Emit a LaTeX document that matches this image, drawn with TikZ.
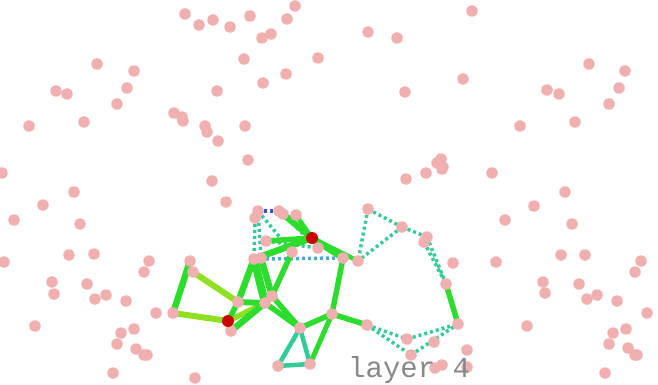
\documentclass[tikz,border=0pt]{standalone}
\usepackage{fontspec}
\newfontfamily\monofont{Liberation Mono}
\definecolor{dotpink}{RGB}{240,176,176}
\definecolor{redn}{RGB}{204,0,0}
\definecolor{gr}{RGB}{45,221,45}
\definecolor{yg}{RGB}{142,224,33}
\definecolor{tl}{RGB}{51,204,153}
\definecolor{bl}{RGB}{68,170,221}
\definecolor{db}{RGB}{51,85,204}
\definecolor{lbl}{RGB}{136,136,136}
\tikzset{
  pt/.style={circle,fill=dotpink,inner sep=0pt,minimum size=11.5pt},
  rpt/.style={circle,fill=redn,inner sep=0pt,minimum size=12pt},
  ge/.style={draw=gr,line width=6pt},
  ye/.style={draw=yg,line width=6pt},
  te/.style={draw=tl,line width=4.5pt},
  td/.style={draw=tl,line width=3.5pt,dash pattern=on 3pt off 3pt},
  bd/.style={draw=bl,line width=3.5pt,dash pattern=on 3pt off 3pt},
  dbd/.style={draw=db,line width=3.5pt,dash pattern=on 3pt off 3pt},
}
\begin{document}
\begin{tikzpicture}[x=1pt,y=-1pt]
\useasboundingbox (0,0) rectangle (658,385);
% coordinates of graph nodes
\foreach \n/\x/\y in {
 a108/258/211, a109/255/218, a110/279/211, a111/283/214, a112/296/215,
 a113/266/241, r1/312/238, a114/318/248, a115/292/252, a116/254/259,
 a117/261/258, a118/343/258, a119/358/261, a120/368/209, a121/402/227,
 a122/427/237, a123/424/242, a124/453/263, a125/446/284, a126/238/302,
 a127/272/296, a128/265/303, r2/228/321, a129/231/331, a130/300/328,
 a131/332/314, a132/367/325, a133/278/366, a134/310/364, a135/407/339,
 a136/434/342, a137/411/355, a138/442/365, a139/435/368, a107/458/324,
 a64/190/261, a65/193/272, a73/173/313}
 {\coordinate (\n) at (\x,\y);}
% edges
\draw[td] (a109) -- (a116);
\draw[td] (a108) -- (a115);
\draw[td] (a110) -- (a114);
\draw[td] (a108) -- (a117);
\draw[td] (a113) -- (a114);
\draw[td] (a120) -- (a119);
\draw[td] (a120) -- (a121);
\draw[td] (a121) -- (a119);
\draw[td] (a121) -- (a122);
\draw[td] (a122) -- (a125);
\draw[td] (a123) -- (a125);
\draw[td] (a132) -- (a135);
\draw[td] (a132) -- (a137);
\draw[td] (a135) -- (a107);
\draw[td] (a137) -- (a107);
\draw[dbd] (a108) -- (a110);
\draw[bd] (a116) -- (a118);
\draw[dbd] (a110) -- (r1);
\draw[ge,line width=6.5pt] (a64) -- (a73);
\draw[ye] (a65) -- (a126);
\draw[ye] (a73) -- (r2);
\draw[ye,line width=5.5pt] (r2) -- (a128);
\draw[ge,line width=5.5pt] (r2) -- (a126);
\draw[ge,line width=6.5pt] (a126) -- (a116);
\draw[ge,line width=8pt] (a116) -- (a128);
\draw[ge,line width=6.5pt] (a117) -- (a127);
\draw[ge,line width=5.5pt] (a127) -- (a115);
\draw[ge] (a126) -- (a128);
\draw[ge,line width=6.5pt] (a129) -- (a128);
\draw[ge,line width=5.5pt] (a128) -- (a130);
\draw[ge,line width=5.5pt] (a127) -- (a130);
\draw[ge,line width=5.5pt] (a130) -- (a131);
\draw[ge,line width=5.5pt] (a131) -- (a118);
\draw[ge,line width=5.5pt] (a131) -- (a132);
\draw[ge,line width=5pt] (a131) -- (a134);
\draw[te] (a130) -- (a133);
\draw[te] (a130) -- (a134);
\draw[te] (a133) -- (a134);
\draw[ge,line width=5.5pt] (r1) -- (a113);
\draw[ge,line width=6.5pt] (r1) -- (a116);
\draw[ge,line width=6.5pt] (r1) -- (a118);
\draw[ge,line width=4.5pt] (r1) -- (a119);
\draw[ge,line width=6.5pt] (r1) -- (a111);
\draw[ge,line width=4.5pt] (r1) -- (a112);
\draw[ge,line width=5.5pt] (a125) -- (a107);
% dots
\foreach \x/\y [count=\i] in {
 185/14,199/25,213/20,230/27,250/16,287/19,295/6,262/38,271/34,244/59,
 318/58,286/74,263/83,97/64,134/71,56/91,67/94,127/88,117/104,29/126,
 84/122,174/113,182/117,183/121,217/91,205/126,207/132,245/126,218/141,248/160,
 2/173,212/181,74/192,226/202,
 472/11,368/32,397/38,589/64,625/71,463/79,405/92,547/90,559/94,619/88,
 609/104,520/126,575/122,441/159,437/163,443/167,442/169,406/179,426/173,492/173,
 565/192,
 43/205,14/220,80/224,69/255,94/254,4/262,149/261,144/272,190/261,193/272,
 52/282,54/294,87/284,106/295,95/299,126/301,156/313,173/313,35/326,121/333,
 134/329,117/344,136/349,144/355,147/355,113/373,195/378,
 534/206,505/220,572/224,496/262,561/255,585/255,641/261,635/272,543/282,545/293,
 579/284,587/299,597/295,617/301,647/313,527/326,613/333,626/329,609/344,628/348,
 635/355,637/355,605/373,467/350,467/367,458/324,
 258/211,255/218,279/211,283/214,296/215,266/241,318/248,292/252,254/259,261/258,
 343/258,358/261,368/209,402/227,427/237,424/242,453/263,446/284,238/302,272/296,
 265/303,231/331,300/328,332/314,367/325,278/366,310/364,407/339,434/342,411/355,
 442/365,435/368}
 {\node[pt] (p\i) at (\x,\y) {};}
\node[rpt] (red1) at (r1) {};
\node[rpt] (red2) at (r2) {};
\node[anchor=base west,text=lbl,font=\monofont\fontsize{29}{31}\selectfont,inner sep=0pt] (lab) at (348,377) {layer 4};
\end{tikzpicture}
\end{document}
